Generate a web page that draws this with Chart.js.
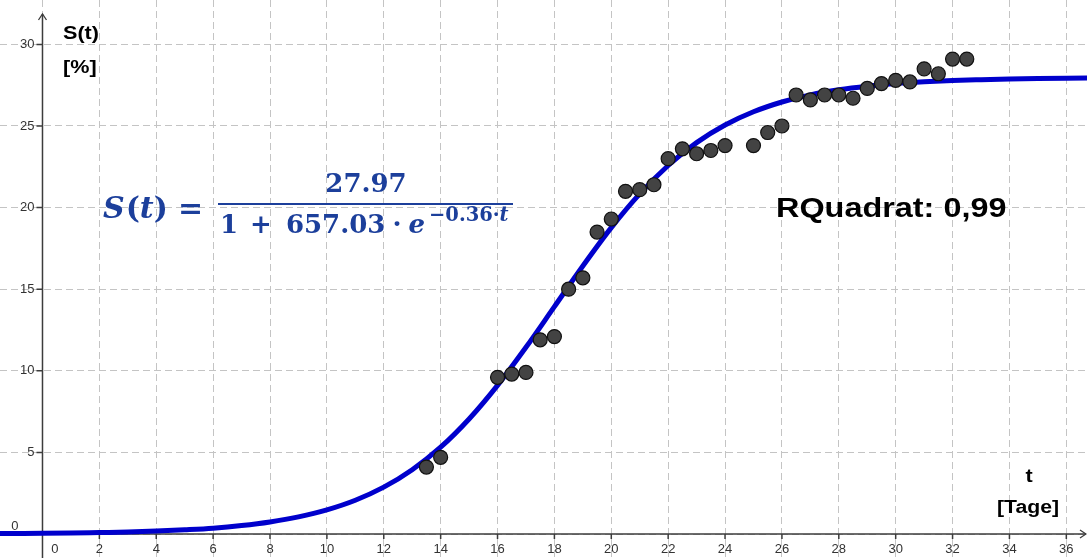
<!DOCTYPE html>
<html>
<head>
<meta charset="utf-8">
<script src="https://cdn.jsdelivr.net/npm/chart.js@4.4.0/dist/chart.umd.min.js"></script>
<style>
  html, body { margin: 0; padding: 0; background: #fff; }
  canvas { display: block; }
</style>
</head>
<body>
<canvas id="sChart" width="1087" height="558"></canvas>
<script>
// measured values (day t, share S in %)
const days = [13.5, 14, 16, 16.5, 17, 17.5, 18, 18.5, 19, 19.5, 20, 20.5, 21, 21.5, 22, 22.5, 23, 23.5, 24,
              25, 25.5, 26, 26.5, 27, 27.5, 28, 28.5, 29, 29.5, 30, 30.5, 31, 31.5, 32, 32.5];
const shares = [4.1, 4.7, 9.6, 9.8, 9.9, 11.9, 12.1, 15.0, 15.7, 18.5, 19.3, 21.0, 21.1, 21.4, 23.0, 23.6, 23.3, 23.5, 23.8,
                23.8, 24.6, 25.0, 26.9, 26.6, 26.9, 26.9, 26.7, 27.3, 27.6, 27.8, 27.7, 28.5, 28.2, 29.1, 29.1];

// logistic fit curve at whole days
const curveT = [-2, -1, 0, 1, 2, 3, 4, 5, 6, 7, 8, 9, 10, 11, 12, 13, 14, 15, 16, 17, 18, 19,
                20, 21, 22, 23, 24, 25, 26, 27, 28, 29, 30, 31, 32, 33, 34, 35, 36, 37];
const curveS = [0.02, 0.03, 0.04, 0.06, 0.09, 0.12, 0.18, 0.26, 0.36, 0.52, 0.74, 1.05, 1.48, 2.07, 2.87, 3.94, 5.32, 7.05, 9.11, 11.44, 13.93, 16.42,
                18.77, 20.84, 22.58, 23.98, 25.06, 25.87, 26.47, 26.91, 27.22, 27.44, 27.60, 27.71, 27.79, 27.84, 27.88, 27.91, 27.93, 27.94];

const xTicks = [0, 2, 4, 6, 8, 10, 12, 14, 16, 18, 20, 22, 24, 26, 28, 30, 32, 34, 36];
const yTicks = [0, 5, 10, 15, 20, 25, 30];

const AXIS_COLOR = '#3c3c3c';
const CURVE_COLOR = 'rgb(0,0,204)';
const FORMULA_COLOR = '#1c3f9b';

// draw text squeezed/stretched horizontally
function stretchText(ctx, text, x, y, sx, align) {
    ctx.save();
    ctx.translate(x, y);
    ctx.scale(sx, 1);
    ctx.textAlign = align || 'left';
    ctx.fillText(text, 0, 0);
    ctx.restore();
}

// draw pieces one after another on a baseline
function drawRun(ctx, x, baseline, parts) {
    ctx.textAlign = 'left';
    parts.forEach(p => {
        ctx.font = p.font;
        x += p.gap || 0;
        ctx.fillText(p.t, x, baseline + (p.dy || 0));
        x += ctx.measureText(p.t).width;
    });
    return x;
}

const axesPlugin = {
    id: 'geoAxes',
    beforeDatasetsDraw(chart) {
        const { ctx, chartArea: a, scales: { x, y } } = chart;
        const x0 = x.getPixelForValue(0);
        const y0 = y.getPixelForValue(0);

        ctx.save();
        ctx.strokeStyle = AXIS_COLOR;
        ctx.lineWidth = 1.5;
        ctx.beginPath();
        ctx.moveTo(a.left, y0);
        ctx.lineTo(a.right - 1, y0);
        ctx.moveTo(x0, a.bottom);
        ctx.lineTo(x0, a.top + 14);
        xTicks.forEach(v => {
            if (v === 0) return;
            const px = x.getPixelForValue(v);
            ctx.moveTo(px, y0);
            ctx.lineTo(px, y0 + 5);
        });
        yTicks.forEach(v => {
            if (v === 0) return;
            const py = y.getPixelForValue(v);
            ctx.moveTo(x0 - 6, py);
            ctx.lineTo(x0, py);
        });
        ctx.stroke();

        // arrow heads
        ctx.lineWidth = 1.3;
        ctx.beginPath();
        ctx.moveTo(x0 - 4, a.top + 20);
        ctx.lineTo(x0, a.top + 14);
        ctx.lineTo(x0 + 4, a.top + 20);
        ctx.moveTo(a.right - 7, y0 - 4);
        ctx.lineTo(a.right - 1, y0);
        ctx.lineTo(a.right - 7, y0 + 4);
        ctx.stroke();

        // tick labels
        ctx.fillStyle = '#333';
        ctx.font = '13px "Liberation Sans", Arial, sans-serif';
        ctx.textAlign = 'center';
        ctx.textBaseline = 'alphabetic';
        xTicks.forEach(v => {
            const px = v === 0 ? x0 + 12.5 : x.getPixelForValue(v);
            ctx.fillText(String(v), px, y0 + 19);
        });
        ctx.textAlign = 'right';
        ctx.textBaseline = 'middle';
        yTicks.forEach(v => {
            if (v === 0) {
                ctx.fillText('0', x0 - 24, y0 - 8);
            } else {
                ctx.fillText(String(v), x0 - 8, y.getPixelForValue(v));
            }
        });
        ctx.restore();
    },
    afterDraw(chart) {
        const { ctx } = chart;
        ctx.save();
        ctx.textBaseline = 'alphabetic';

        // axis titles
        ctx.fillStyle = '#000';
        ctx.font = 'bold 18px "Liberation Sans", Arial, sans-serif';
        stretchText(ctx, 'S(t)', 63, 39, 1.2, 'left');
        stretchText(ctx, '[%]', 63, 73, 1.2, 'left');
        stretchText(ctx, 't', 1029, 482, 1.2, 'center');
        stretchText(ctx, '[Tage]', 997, 513, 1.18, 'left');

        // R squared
        ctx.font = 'bold 27px "Liberation Sans", Arial, sans-serif';
        stretchText(ctx, 'RQuadrat: 0,99', 776, 217, 1.2, 'left');

        // formula
        ctx.fillStyle = FORMULA_COLOR;
        const it = 'italic bold 30px "DejaVu Serif", serif';
        const bd = 'bold 30px "DejaVu Serif", serif';
        drawRun(ctx, 103, 218, [
            { t: 'S', font: it },
            { t: '(', font: bd, gap: 1 },
            { t: 't', font: it },
            { t: ')', font: bd },
            { t: '=', font: bd, gap: 10 }
        ]);

        const num = 'bold 26px "DejaVu Serif", serif';
        ctx.font = num;
        ctx.textAlign = 'center';
        ctx.fillText('27.97', 366, 192);

        ctx.fillRect(218, 203, 295, 2);

        const endX = drawRun(ctx, 220, 233, [
            { t: '1', font: num },
            { t: '+', font: num, gap: 12 },
            { t: '657.03', font: num, gap: 14 },
            { t: '\u00b7', font: num, gap: 7 },
            { t: 'e', font: 'italic bold 26px "DejaVu Serif", serif', gap: 7 }
        ]);
        drawRun(ctx, endX + 4, 221, [
            { t: '\u22120.36\u00b7', font: 'bold 19.5px "DejaVu Serif", serif' },
            { t: 't', font: 'italic bold 19.5px "DejaVu Serif", serif' }
        ]);
        ctx.restore();
    }
};

const points = days.map((d, i) => ({ x: d, y: shares[i] }));
const curve = curveT.map((t, i) => ({ x: t, y: curveS[i] }));

const gridOpts = {
    color: '#c4c4c4',
    lineWidth: 1,
    drawTicks: false
};

new Chart(document.getElementById('sChart'), {
    type: 'scatter',
    data: {
        datasets: [
            {
                label: 'Messwerte',
                data: points,
                order: 0,
                pointRadius: 7,
                pointBackgroundColor: '#434343',
                pointBorderColor: '#111',
                pointBorderWidth: 1.2
            },
            {
                label: 'S(t)',
                data: curve,
                order: 1,
                showLine: true,
                pointRadius: 0,
                borderColor: CURVE_COLOR,
                borderWidth: 5,
                cubicInterpolationMode: 'monotone'
            }
        ]
    },
    options: {
        responsive: false,
        animation: false,
        devicePixelRatio: 1,
        layout: { padding: 0, autoPadding: false },
        plugins: {
            legend: { display: false },
            tooltip: { enabled: false }
        },
        scales: {
            x: {
                type: 'linear',
                min: -1.494,
                max: 36.727,
                afterBuildTicks: s => { s.ticks = xTicks.map(v => ({ value: v })); },
                ticks: { display: false },
                grid: gridOpts,
                border: { display: false, dash: [7, 4] }
            },
            y: {
                type: 'linear',
                min: -1.47,
                max: 32.72,
                afterBuildTicks: s => { s.ticks = yTicks.map(v => ({ value: v })); },
                ticks: { display: false },
                grid: gridOpts,
                border: { display: false, dash: [7, 4] }
            }
        }
    },
    plugins: [axesPlugin]
});
</script>
</body>
</html>
